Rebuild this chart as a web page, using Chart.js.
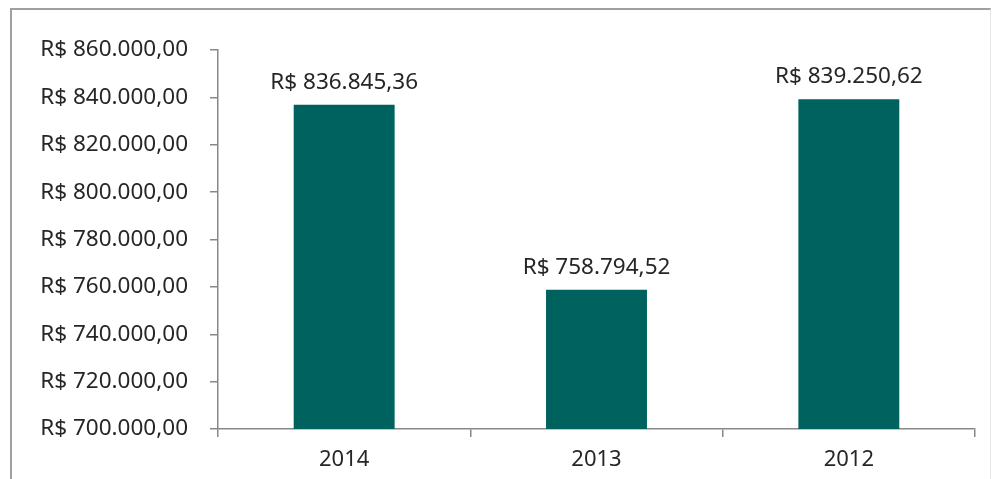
<!DOCTYPE html>
<html>
<head>
<meta charset="utf-8">
<script src="https://cdn.jsdelivr.net/npm/chart.js@4/dist/chart.umd.min.js"></script>
<style>
  html, body { margin: 0; padding: 0; background: #fff; }
  #wrap { position: relative; width: 993px; height: 479px; overflow: hidden; }
  #frame { position: absolute; left: 10px; top: 8px; width: 978px; height: 500px;
           border-top: 2px solid #a0a0a0; border-left: 2px solid #a0a0a0; border-right: 1px solid #e4e4e4; }
  canvas { position: absolute; left: 0; top: 0; }
</style>
</head>
<body>
<div id="wrap">
  <div id="frame"></div>
  <canvas id="chart" width="993" height="479"></canvas>
</div>
<script>
var years = ['2014', '2013', '2012'];
var values = [836845.36, 758794.52, 839250.62];
var yMin = 700000;
var yMax = 860000;
var yStep = 20000;

// R$ 1.234,56 style
function brl(v) {
  var parts = v.toFixed(2).split('.');
  var intPart = parts[0].replace(/\B(?=(\d{3})+(?!\d))/g, '.');
  return 'R$ ' + intPart + ',' + parts[1];
}

var fontFam = '"Noto Sans", "Open Sans", sans-serif';
var textColor = '#262626';

// labels over the bars
var barLabels = {
  id: 'barLabels',
  afterDatasetsDraw: function(chart) {
    var ctx = chart.ctx;
    var meta = chart.getDatasetMeta(0);
    ctx.save();
    ctx.font = '22.5px ' + fontFam;
    ctx.fillStyle = textColor;
    ctx.textAlign = 'center';
    ctx.textBaseline = 'bottom';
    meta.data.forEach(function(bar, i) {
      ctx.fillText(brl(values[i]), bar.x, bar.y - 11);
    });
    ctx.restore();
  }
};

new Chart(document.getElementById('chart'), {
  type: 'bar',
  data: {
    labels: years,
    datasets: [{
      data: values,
      backgroundColor: '#00625e',
      categoryPercentage: 1,
      barPercentage: 0.4
    }]
  },
  options: {
    responsive: false,
    animation: false,
    layout: { padding: { top: 50, right: 18, left: 0, bottom: 0 } },
    plugins: { legend: { display: false }, tooltip: { enabled: false } },
    scales: {
      x: {
        grid: { offset: true, drawOnChartArea: false, drawTicks: true, tickLength: 8, color: '#888888', lineWidth: 1.5 },
        border: { color: '#888888', width: 1.5 },
        ticks: { color: textColor, font: { family: fontFam, size: 22 }, padding: 10 },
        afterFit: function(s) { s.height = 50; }
      },
      y: {
        min: yMin,
        max: yMax,
        ticks: { stepSize: yStep, color: textColor, font: { family: fontFam, size: 22.5 }, padding: 22,
                 callback: function(v) { return brl(v); } },
        grid: { drawOnChartArea: false, tickLength: 8, color: '#888888', lineWidth: 1.5 },
        border: { color: '#888888', width: 1.5 },
        afterFit: function(s) { s.width = 218; }
      }
    }
  },
  plugins: [barLabels]
});
</script>
</body>
</html>
